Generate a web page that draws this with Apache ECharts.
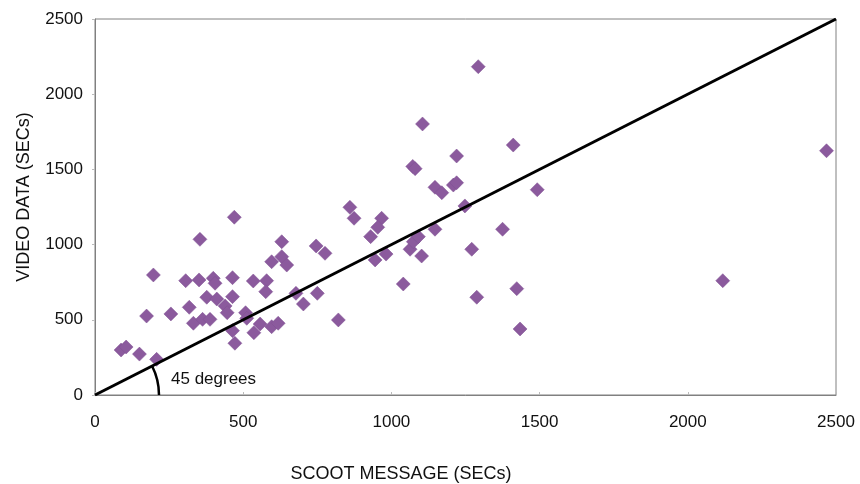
<!DOCTYPE html>
<html><head><meta charset="utf-8">
<script src="https://cdn.jsdelivr.net/npm/echarts@6/dist/echarts.min.js"></script>
<style>html,body{margin:0;padding:0;background:#fff}#c{width:860px;height:484px}</style>
</head><body><div id="c"></div>
<script>
const scootX = [88,105,150,208,174,197,256,306,354,318,332,363,388,351,377,399,405,411,439,446,464,464,464,472,470,508,512,534,579,576,536,557,596,618,630,596,630,647,860,874,967,954,930,746,776,945,982,1063,1074,1091,1102,1147,1248,1271,1288,678,703,750,821,1040,1105,1411,1220,1072,1080,1147,1170,1209,1220,1492,1375,1423,1293,2468,2118,1434];
const videoY = [299,319,272,237,525,798,539,760,1035,583,477,503,503,765,650,776,743,638,592,547,780,654,428,344,1182,547,510,758,760,687,414,472,454,477,1019,886,920,864,1248,1175,1175,1115,1053,991,942,898,937,969,1019,1053,924,1102,1257,969,650,676,605,676,499,738,1802,1662,1589,1520,1505,1381,1345,1396,1411,1365,1102,707,2183,1624,760,439];
const lineX = [0, 2500];
const lineY = [0, 2500];
const ticks = [0, 500, 1000, 1500, 2000, 2500];

const chart = echarts.init(document.getElementById('c'));
const font = 'Liberation Sans, Arial, sans-serif';
const pts = scootX.map((x, i) => [x, videoY[i]]);
const linePts = lineX.map((x, i) => [x, lineY[i]]);
const fmt = v => String(v);
chart.setOption({
  animation: false,
  grid: {left: 95, top: 19, right: 24, bottom: 89, show: true, borderColor: '#808080', borderWidth: 1},
  xAxis: {
    type: 'value', min: ticks[0], max: ticks[ticks.length-1], interval: 500,
    axisLine: {show: true, lineStyle: {color: '#808080', width: 1}},
    axisTick: {show: true, inside: true, length: 3, lineStyle: {color: '#bbb'}},
    splitLine: {show: false},
    axisLabel: {color: '#111', fontSize: 17, fontFamily: font, margin: 19, formatter: fmt}
  },
  yAxis: {
    type: 'value', min: ticks[0], max: ticks[ticks.length-1], interval: 500,
    axisLine: {show: true, lineStyle: {color: '#808080', width: 1}},
    axisTick: {show: true, inside: false, length: 3, lineStyle: {color: '#bbb'}},
    splitLine: {show: false},
    axisLabel: {color: '#111', fontSize: 17, fontFamily: font, margin: 12, formatter: fmt}
  },
  series: [
    {type: 'line', data: linePts, symbol: 'none', lineStyle: {color: '#000', width: 3}, z: 3, silent: true},
    {type: 'scatter', data: pts, symbol: 'diamond', symbolSize: 14,
     itemStyle: {color: '#8b5a9d', opacity: 1, borderColor: '#7f5092', borderWidth: 0.5}, z: 2}
  ]
});

function drawExtras() {
  const o = chart.convertToPixel({gridIndex: 0}, [0, 0]);
  const e = chart.convertToPixel({gridIndex: 0}, [2500, 2500]);
  const ang = Math.atan2(e[1] - o[1], e[0] - o[0]);
  chart.setOption({
    graphic: [
      {type: 'arc', shape: {cx: o[0], cy: o[1], r: 64, startAngle: ang, endAngle: 0, clockwise: true},
       style: {stroke: '#000', lineWidth: 2.5, fill: null}, z: 10},
      {type: 'text', x: o[0] + 76, y: o[1] - 16,
       style: {text: '45 degrees', fill: '#111', fontSize: 17, fontFamily: font, verticalAlign: 'middle'}, z: 10},
      {type: 'text', x: 401, y: 474,
       style: {text: 'SCOOT MESSAGE (SECs)', fill: '#111', fontSize: 18, fontFamily: font, align: 'center', verticalAlign: 'middle'}, z: 10},
      {type: 'text', x: 24, y: 197, rotation: Math.PI / 2,
       style: {text: 'VIDEO DATA (SECs)', fill: '#111', fontSize: 18, fontFamily: font, align: 'center', verticalAlign: 'middle'}, z: 10}
    ]
  });
}
drawExtras();
</script>
</body></html>
